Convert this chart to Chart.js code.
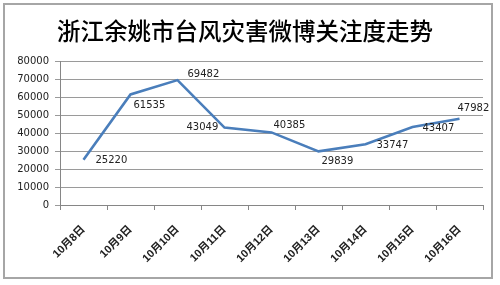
<!DOCTYPE html>
<html><head><meta charset="utf-8">
<script src="https://cdn.jsdelivr.net/npm/chart.js@4.4.0/dist/chart.umd.min.js"></script>
<style>html,body{margin:0;padding:0;background:#fff}#wrap{width:500px;height:285px;position:relative}</style>
</head><body><div id="wrap"><canvas id="c" width="500" height="285"></canvas></div>
<script>
const titleText = '浙江余姚市台风灾害微博关注度走势';
const categories = ['10月8日','10月9日','10月10日','10月11日','10月12日','10月13日','10月14日','10月15日','10月16日'];
const values = [25220, 61535, 69482, 43049, 40385, 29839, 33747, 43407, 47982];
const yTicks = [0, 10000, 20000, 30000, 40000, 50000, 60000, 70000, 80000];
// label offsets (style only): left edge dx, middle dy relative to point
const labelOffsets = [[12,1],[3,11],[10,-6],[-38,0],[2,-7],[3,10],[11,1],[10,1],[-2,-10]];

const frame = {
  id:'frame',
  beforeDraw(chart){
    const ctx = chart.ctx;
    ctx.save();
    ctx.fillStyle = '#fff';
    ctx.fillRect(0,0,chart.width,chart.height);
    ctx.strokeStyle = '#a6a6a6';
    ctx.lineWidth = 2;
    ctx.strokeRect(4,4,488,274);
    ctx.restore();
  }
};
const labels = {
  id:'valLabels',
  afterDatasetsDraw(chart){
    const ctx = chart.ctx;
    const meta = chart.getDatasetMeta(0);
    ctx.save();
    ctx.font = '10px "DejaVu Sans"';
    ctx.fillStyle = '#222';
    ctx.textAlign = 'left';
    ctx.textBaseline = 'middle';
    meta.data.forEach((pt,i)=>{
      const o = labelOffsets[i];
      ctx.fillText(String(values[i]), pt.x + o[0], pt.y + o[1]);
    });
    ctx.restore();
  }
};

new Chart(document.getElementById('c'), {
  type:'line',
  data:{ labels: categories, datasets:[{ data: values, borderColor:'#4a7ebb', borderWidth:2.6, pointRadius:0, tension:0, fill:false }]},
  options:{
    responsive:false, animation:false,
    layout:{ padding:{ left:7, right:17, top:0, bottom:0 } },
    plugins:{
      legend:{display:false}, tooltip:{enabled:false},
      title:{ display:true, text:titleText, color:'#000', font:{ family:'"Noto Sans CJK SC"', size:23.5, weight:'500', lineHeight:1.2 }, padding:{ top:17, bottom:16 } }
    },
    scales:{
      x:{
        offset:true,
        grid:{ offset:true, drawOnChartArea:false, drawTicks:true, tickLength:5, color:'#868686' },
        border:{ color:'#868686', width:1 },
        ticks:{ minRotation:45, maxRotation:45, autoSkip:false, color:'#222', padding:13, font:{ family:'"Liberation Sans","Noto Sans CJK SC"', size:11, weight:'bold' } },
        afterFit(s){ s.height = 80; }
      },
      y:{
        min:0, max:80000,
        afterBuildTicks(s){ s.ticks = yTicks.map(v=>({value:v})); },
        grid:{ color:'#9a9a9a', tickLength:5, drawTicks:true },
        border:{ color:'#868686', width:1 },
        ticks:{ color:'#222', padding:6, font:{ family:'"DejaVu Sans"', size:10 }, callback:v=>String(v) },
        afterFit(s){ s.width = 53; }
      }
    }
  },
  plugins:[frame, labels]
});
</script></body></html>
